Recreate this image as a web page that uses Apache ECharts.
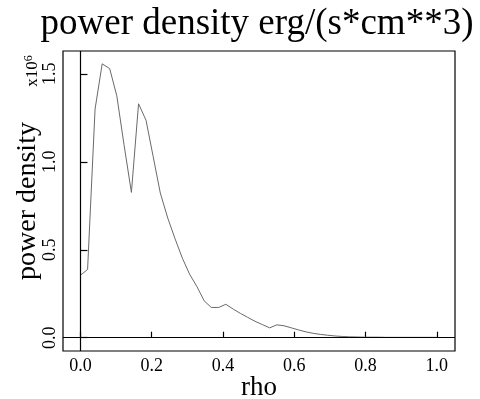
<!DOCTYPE html>
<html>
<head>
<meta charset="utf-8">
<script src="https://cdn.jsdelivr.net/npm/echarts@6/dist/echarts.min.js"></script>
<style>html,body{margin:0;padding:0;background:#fff}#c{width:480px;height:399px}</style>
</head>
<body>
<div id="c"></div>
<script>
const titleText = 'power density erg/(s*cm**3)';
const xName = 'rho';
const yName = 'power density';
const yScaleText = 'x10';
const yScaleExp = '6';
const rho = [0.000,0.020,0.041,0.061,0.082,0.102,0.122,0.143,0.163,0.184,
             0.204,0.224,0.245,0.265,0.286,0.306,0.327,0.347,0.367,0.388,
             0.408,0.429,0.449,0.469,0.490,0.510,0.531,0.551,0.571,0.592,
             0.612,0.633,0.653,0.673,0.694,0.714,0.735,0.755,0.776,0.796,
             0.816,0.837,0.857,0.878,0.898,0.918,0.939,0.959,0.980,1.000];
// power density in units of 10^6 erg/(s*cm**3)
const power = [0.355,0.388,1.300,1.557,1.530,1.375,1.100,0.826,1.330,1.236,
               1.030,0.823,0.680,0.565,0.452,0.362,0.290,0.210,0.172,0.172,
               0.190,0.162,0.138,0.116,0.093,0.075,0.056,0.073,0.068,0.056,
               0.044,0.033,0.025,0.019,0.014,0.010,0.007,0.005,0.004,0.003,
               0.003,0.003,0.002,0.002,0.002,0.002,0.002,0.002,0.002,0.002];
const xTicks = [0, 0.2, 0.4, 0.6, 0.8, 1.0];
const yTicks = [0, 0.5, 1.0, 1.5];

const FONT = "'Liberation Serif','DejaVu Serif',serif";
const chart = echarts.init(document.getElementById('c'), null, {renderer: 'canvas'});
const data = rho.map((r, i) => [r, power[i]]);
chart.setOption({
  animation: false,
  backgroundColor: '#fff',
  grid: {left: 63, top: 51, width: 392, height: 300, show: true, borderColor: '#000', borderWidth: 1.2,
         containLabel: false, outerBoundsMode: 'none'},
  xAxis: {
    type: 'value', min: -0.049, max: 1.051,
    name: xName, nameLocation: 'middle', nameGap: 23, nameMoveOverlap: false,
    nameTextStyle: {fontFamily: FONT, fontSize: 27, color: '#000', verticalAlign: 'top'},
    axisLine: {show: false},
    axisTick: {show: true, inside: true, length: 6, lineStyle: {color: '#000', width: 1.2}, customValues: xTicks},
    axisLabel: {show: true, fontFamily: FONT, fontSize: 18, color: '#000', margin: 6, customValues: xTicks,
                formatter: v => v.toFixed(1)},
    splitLine: {show: false}
  },
  yAxis: {
    type: 'value', min: -0.0756, max: 1.630,
    name: yName, nameLocation: 'middle', nameGap: 21, nameRotate: 90, nameMoveOverlap: false,
    nameTextStyle: {fontFamily: FONT, fontSize: 28, color: '#000'},
    axisLine: {show: false},
    axisTick: {show: true, inside: true, length: 7, lineStyle: {color: '#000', width: 1.2}, customValues: yTicks},
    axisLabel: {show: true, rotate: 90, fontFamily: FONT, fontSize: 18, color: '#000', margin: 4, customValues: yTicks,
                formatter: v => v.toFixed(1)},
    splitLine: {show: false}
  },
  graphic: [
    {type: 'text', x: 257, y: 6, style: {text: titleText, font: '37px ' + FONT, fill: '#000', align: 'center', verticalAlign: 'top'}},
    {type: 'text', x: 33, y: 71, rotation: Math.PI / 2,
     style: {text: '{a|' + yScaleText + '}{b|' + yScaleExp + '}', align: 'center', verticalAlign: 'middle',
             rich: {a: {fontFamily: FONT, fontSize: 17, fill: '#000'}, b: {fontFamily: FONT, fontSize: 12, fill: '#000', verticalAlign: 'top', padding: [0,0,8,0]}}}}
  ],
  series: [{
    type: 'line', data: data, showSymbol: false, symbol: 'none',
    lineStyle: {color: '#6a6a6a', width: 1},
    markLine: {silent: true, symbol: 'none', label: {show: false},
               lineStyle: {color: '#000', width: 1.2, type: 'solid'},
               data: [{xAxis: 0}, {yAxis: 0}]}
  }]
});
</script>
</body>
</html>
